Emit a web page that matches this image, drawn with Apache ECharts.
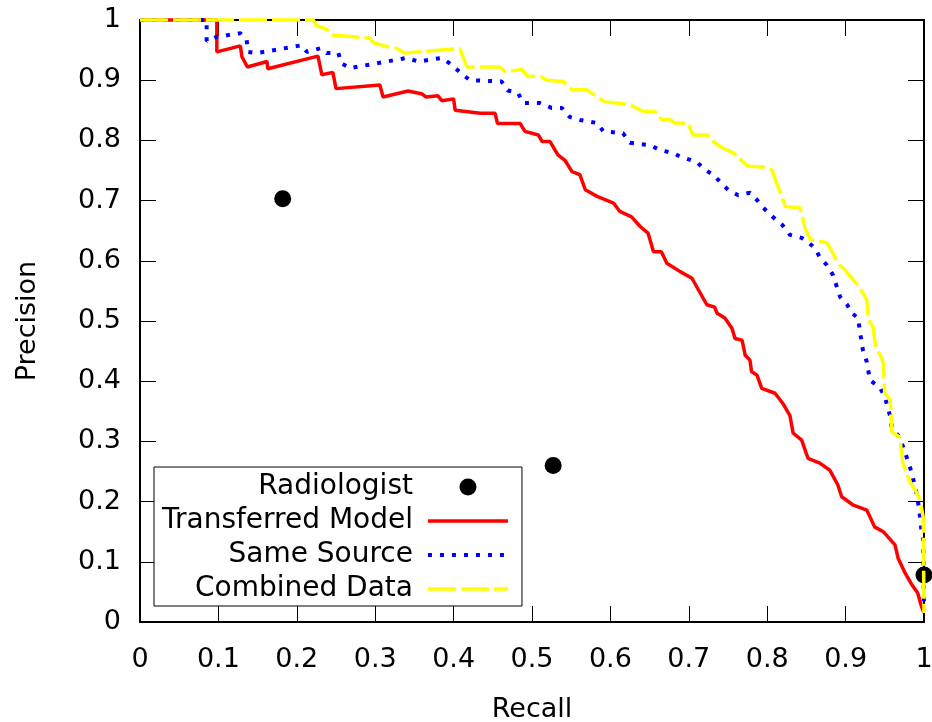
<!DOCTYPE html>
<html>
<head>
<meta charset="utf-8">
<script src="https://cdn.jsdelivr.net/npm/echarts@6/dist/echarts.min.js"></script>
<style>html,body{margin:0;padding:0;background:#fff}#c{width:932px;height:722px}</style>
</head>
<body>
<div id="c"></div>
<script>
// ---- data ----
const seriesNames = ['Radiologist', 'Transferred Model', 'Same Source', 'Combined Data'];
const radiologistRecall = [0.182, 0.527, 1.0];
const radiologistPrecision = [0.703, 0.260, 0.078];

const transferredModel = [
  [0,1],[0.098,1],[0.098,0.947],[0.128,0.957],[0.130,0.939],[0.137,0.922],[0.162,0.931],[0.163,0.919],
  [0.227,0.940],[0.232,0.909],[0.246,0.913],[0.250,0.886],[0.306,0.892],[0.310,0.872],[0.342,0.882],
  [0.360,0.877],[0.365,0.872],[0.380,0.874],[0.385,0.866],[0.400,0.869],[0.402,0.850],[0.434,0.845],
  [0.453,0.845],[0.456,0.828],[0.485,0.828],[0.491,0.815],[0.508,0.809],[0.513,0.798],[0.523,0.798],
  [0.533,0.776],[0.542,0.767],[0.551,0.748],[0.561,0.743],[0.568,0.718],[0.583,0.707],[0.604,0.696],
  [0.612,0.682],[0.627,0.673],[0.638,0.657],[0.648,0.646],[0.655,0.615],[0.665,0.615],[0.672,0.596],
  [0.689,0.582],[0.704,0.571],[0.723,0.527],[0.733,0.523],[0.736,0.513],[0.746,0.505],[0.755,0.488],
  [0.759,0.471],[0.768,0.468],[0.772,0.443],[0.778,0.435],[0.780,0.416],[0.787,0.410],[0.793,0.388],
  [0.810,0.380],[0.820,0.363],[0.829,0.343],[0.833,0.314],[0.844,0.302],[0.852,0.272],[0.867,0.264],
  [0.880,0.252],[0.890,0.228],[0.895,0.208],[0.910,0.194],[0.927,0.186],[0.937,0.158],[0.948,0.150],
  [0.963,0.128],[0.967,0.106],[0.976,0.081],[0.985,0.061],[0.992,0.048],[0.997,0.025],[1,0.015]
];
const sameSource = [
  [0,1],[0.085,1],[0.085,0.965],[0.098,0.972],[0.128,0.978],[0.136,0.967],[0.138,0.947],[0.149,0.945],
  [0.206,0.958],[0.213,0.947],[0.230,0.953],[0.238,0.945],[0.253,0.945],[0.257,0.928],[0.268,0.920],
  [0.340,0.937],[0.355,0.931],[0.385,0.937],[0.395,0.928],[0.412,0.909],[0.421,0.900],[0.461,0.898],
  [0.469,0.883],[0.482,0.879],[0.489,0.862],[0.510,0.862],[0.525,0.854],[0.538,0.854],[0.548,0.839],
  [0.561,0.834],[0.583,0.829],[0.591,0.815],[0.616,0.812],[0.625,0.796],[0.651,0.792],[0.663,0.784],
  [0.680,0.779],[0.689,0.773],[0.710,0.764],[0.721,0.751],[0.731,0.743],[0.740,0.731],[0.750,0.718],
  [0.763,0.709],[0.778,0.713],[0.787,0.701],[0.795,0.688],[0.807,0.673],[0.819,0.660],[0.829,0.643],
  [0.844,0.638],[0.852,0.631],[0.861,0.621],[0.867,0.606],[0.876,0.593],[0.884,0.576],[0.889,0.556],
  [0.893,0.540],[0.902,0.527],[0.908,0.513],[0.916,0.505],[0.918,0.485],[0.922,0.452],[0.927,0.432],
  [0.931,0.402],[0.944,0.389],[0.950,0.374],[0.957,0.341],[0.959,0.322],[0.969,0.307],[0.976,0.281],
  [0.982,0.258],[0.989,0.224],[0.992,0.203],[0.995,0.174],[0.997,0.148],[0.999,0.136],[1,0.020]
];
const combinedData = [
  [0,1],[0.221,1],[0.225,0.991],[0.240,0.983],[0.245,0.975],[0.293,0.970],[0.298,0.962],[0.315,0.956],
  [0.327,0.953],[0.338,0.945],[0.400,0.952],[0.408,0.952],[0.417,0.922],[0.459,0.922],[0.466,0.914],
  [0.487,0.918],[0.495,0.906],[0.510,0.907],[0.519,0.900],[0.540,0.898],[0.551,0.884],[0.570,0.884],
  [0.580,0.875],[0.593,0.864],[0.608,0.862],[0.625,0.859],[0.642,0.848],[0.657,0.848],[0.666,0.834],
  [0.676,0.835],[0.682,0.829],[0.699,0.829],[0.705,0.809],[0.724,0.809],[0.733,0.796],[0.744,0.787],
  [0.757,0.779],[0.763,0.771],[0.776,0.757],[0.795,0.756],[0.806,0.751],[0.812,0.729],[0.819,0.706],
  [0.823,0.690],[0.842,0.688],[0.848,0.656],[0.855,0.635],[0.876,0.630],[0.883,0.615],[0.890,0.596],
  [0.899,0.585],[0.908,0.571],[0.918,0.556],[0.927,0.535],[0.929,0.502],[0.935,0.490],[0.938,0.460],
  [0.946,0.438],[0.948,0.430],[0.950,0.380],[0.957,0.369],[0.959,0.316],[0.969,0.307],[0.973,0.264],
  [0.982,0.233],[0.991,0.214],[0.995,0.203],[0.999,0.174],[1,0.015]
];
const xAxisTitle = 'Recall';
const yAxisTitle = 'Precision';

// ---- chart ----
const FONT = '"DejaVu Sans", sans-serif';
const chart = echarts.init(document.getElementById('c'));
const axisCommon = {
  type: 'value', min: 0, max: 1, interval: 0.1,
  splitLine: { show: false },
  axisLine: { show: true, onZero: false, lineStyle: { color: '#000', width: 2 } },
  axisTick: { show: true, inside: true, length: 16, lineStyle: { color: '#000', width: 1 } }
};
const hiddenMarker = { opacity: 0, borderWidth: 0 };
chart.setOption({
  animation: false,
  backgroundColor: '#fff',
  grid: { left: 140, right: 8, top: 20, bottom: 100, containLabel: false, outerBoundsMode: 'none' },
  xAxis: [
    Object.assign({}, axisCommon, {
      position: 'bottom',
      name: xAxisTitle, nameLocation: 'middle', nameGap: 74,
      nameTextStyle: { fontFamily: FONT, fontSize: 27, color: '#000' },
      axisLabel: { margin: 24, fontFamily: FONT, fontSize: 27, color: '#000' }
    }),
    Object.assign({}, axisCommon, { position: 'top', axisLabel: { show: false } })
  ],
  yAxis: [
    Object.assign({}, axisCommon, {
      position: 'left',
      name: yAxisTitle, nameLocation: 'middle', nameGap: 99,
      nameTextStyle: { fontFamily: FONT, fontSize: 27, color: '#000' },
      axisLabel: { margin: 19, fontFamily: FONT, fontSize: 27, color: '#000' }
    }),
    Object.assign({}, axisCommon, { position: 'right', axisLabel: { show: false } })
  ],
  legend: {
    orient: 'vertical', left: 154, top: 467,
    align: 'right',
    data: [
      { name: seriesNames[0] },
      { name: seriesNames[1], itemStyle: hiddenMarker },
      { name: seriesNames[2], itemStyle: hiddenMarker },
      { name: seriesNames[3], itemStyle: hiddenMarker }
    ],
    itemWidth: 80, itemHeight: 17, itemGap: 0,
    padding: [3, 12, 0, 8],
    selectedMode: false,
    lineStyle: { width: 'inherit' },
    backgroundColor: '#fff', borderColor: '#000', borderWidth: 1, borderRadius: 0,
    textStyle: { fontFamily: FONT, fontSize: 28, color: '#000', lineHeight: 34, padding: [0, 10, 0, 0] }
  },
  series: [
    {
      name: seriesNames[0], type: 'scatter', symbol: 'circle', symbolSize: 17,
      itemStyle: { color: '#000', opacity: 1 },
      data: radiologistRecall.map((r, i) => [r, radiologistPrecision[i]])
    },
    {
      name: seriesNames[1], type: 'line', symbol: 'none', showSymbol: false, clip: false,
      lineStyle: { color: '#ff0000', width: 3.5 }, itemStyle: { color: '#ff0000' },
      data: transferredModel
    },
    {
      name: seriesNames[2], type: 'line', symbol: 'none', showSymbol: false, clip: false,
      lineStyle: { color: '#0000ff', width: 4, type: [4, 8] }, itemStyle: { color: '#0000ff' },
      data: sameSource
    },
    {
      name: seriesNames[3], type: 'line', symbol: 'none', showSymbol: false, clip: false,
      lineStyle: { color: '#ffff00', width: 3.5, type: [28, 5] }, itemStyle: { color: '#ffff00' },
      data: combinedData
    }
  ]
});
</script>
</body>
</html>
